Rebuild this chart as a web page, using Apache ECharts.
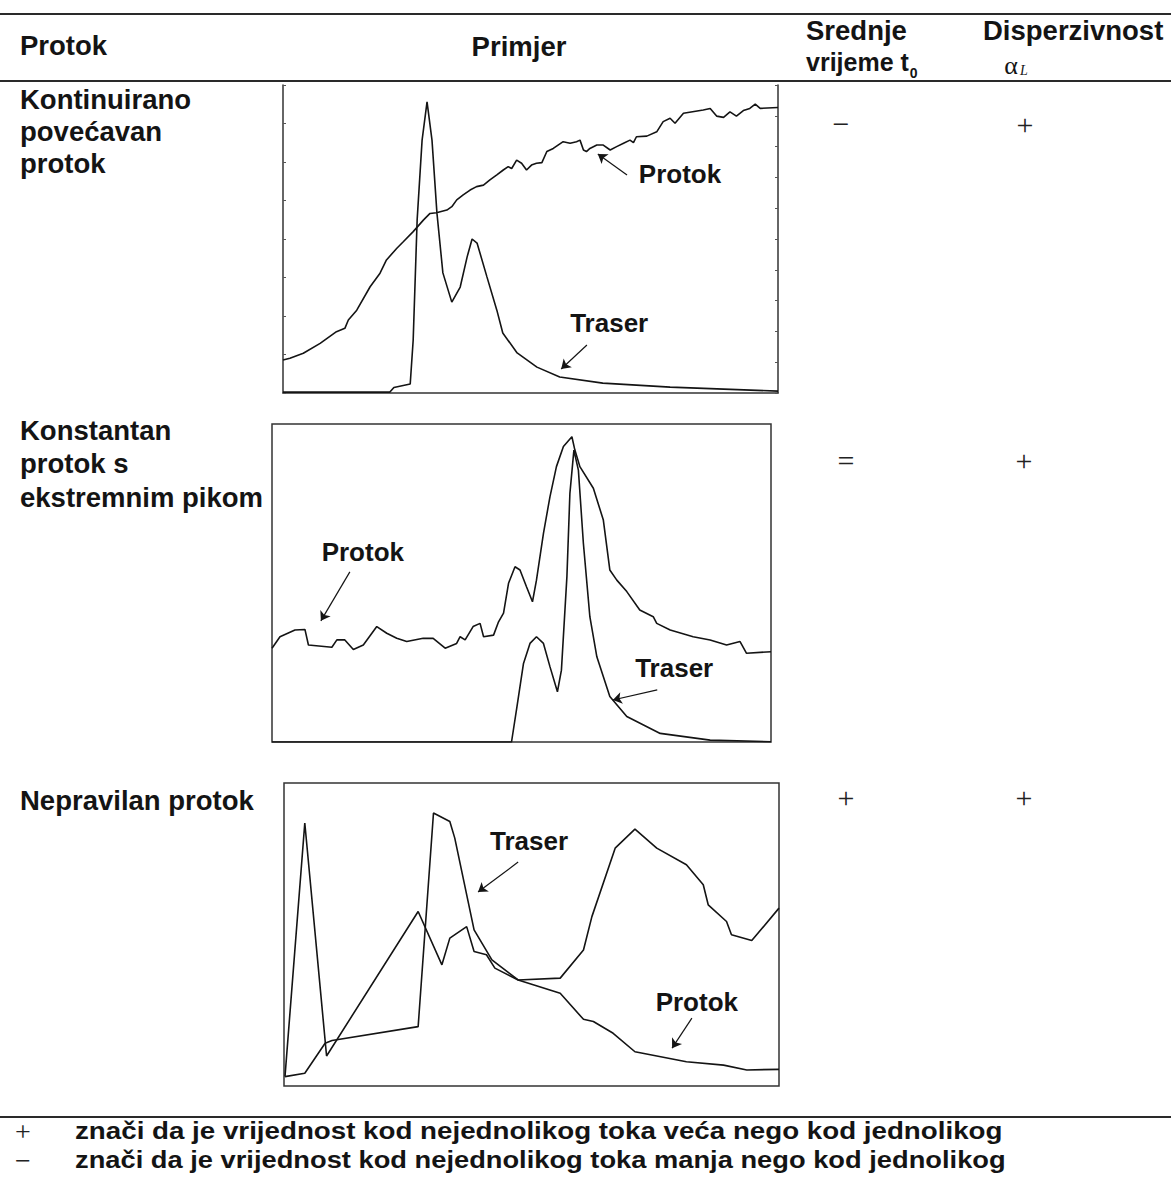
<!DOCTYPE html>
<html><head><meta charset="utf-8">
<script src="https://cdn.jsdelivr.net/npm/echarts@6/dist/echarts.min.js"></script>
<style>html,body{margin:0;padding:0;background:#fff}#c{width:1171px;height:1180px}</style>
</head><body><div id="c"></div>
<script>
// ---------- Panel 1: Kontinuirano povećavan protok ----------
const p1FlowX = [0,1.4,4.1,7.5,10.8,12.5,13.2,14.9,17.6,19.6,20.9,23.0,24.3,26.3,28.4,29.7,31.0,33.1,34.1,35.1,36.4,37.8,39.1,40.5,41.8,43.2,44.5,45.5,46.2,47.2,48.2,49.2,50.2,51.2,52.3,53.3,54.6,56.6,58.0,59.3,60.0,60.7,61.3,62.0,63.4,64.7,66.1,67.4,68.8,70.1,70.8,71.4,73.5,75.5,76.8,78.2,79.2,80.9,84.9,86.3,87.6,89.0,90.3,91.6,93.0,94.3,95.4,96.4,100];
const p1FlowY = [10.7,11.3,12.9,16.1,19.9,21.0,23.7,26.9,34.5,38.9,43.2,47.0,49.1,52.4,56.2,58.3,58.5,59.4,60.5,62.7,64.3,65.9,67.0,67.5,69.2,70.8,72.4,73.5,72.9,75.6,74.6,72.4,74.0,74.6,74.8,78.4,79.4,81.6,81.1,81.6,82.1,78.9,78.4,79.4,80.5,80.5,78.9,80.0,81.1,82.1,81.3,83.2,83.4,84.8,88.1,89.2,87.6,90.8,91.9,92.4,89.9,89.5,91.3,89.9,91.7,92.4,93.8,92.4,92.7];
const p1TracerX = [0,21.6,22.4,25.7,26.3,27.1,28.1,29.1,30.1,31.1,32.3,34.1,35.8,37.2,38.2,39.2,41.2,43.2,44.4,47.3,51.3,55.9,64.6,78.2,100];
const p1TracerY = [0.3,0.3,1.8,2.9,17.2,56.2,82.1,94.5,82.1,58.4,39.0,29.5,34.4,44.2,50.0,48.7,37.7,26.9,19.5,13.0,8.4,5.2,3.2,1.9,0.6];

// ---------- Panel 2: Konstantan protok s ekstremnim pikom ----------
const p2FlowX = [0,1.6,4.6,6.6,7.3,12.0,13.0,14.6,16.3,18.3,21.0,23.0,25.0,27.0,30.3,32.3,34.7,37.0,37.7,38.7,40.3,41.7,42.4,44.4,45.4,46.4,47.4,48.7,49.7,51.0,52.2,53.0,54.4,55.7,57.0,58.4,60.1,60.7,61.7,64.4,66.4,67.7,69.1,71.1,73.7,76.4,77.1,79.8,84.4,87.8,91.1,93.8,95.1,100];
const p2FlowY = [29.5,33.1,35.2,35.4,30.5,29.8,32.1,32.1,29.1,30.5,36.3,34.2,32.6,31.6,32.6,32.6,29.5,31.0,33.1,32.1,36.3,37.3,33.1,33.6,37.8,40.5,49.9,55.1,54.1,48.8,44.1,50.9,65.6,77.1,86.6,92.9,96.0,91.8,86.6,79.8,69.8,54.1,50.9,47.3,41.5,39.4,37.3,35.2,33.1,32.1,30.5,31.6,27.9,28.4];
const p2TracerX = [0,48.0,49.0,50.4,51.7,53.0,54.4,55.7,57.2,58.0,59.1,59.7,60.5,61.4,62.4,63.7,65.1,67.7,71.1,77.8,87.8,100];
const p2TracerY = [0,0,10.2,24.7,31.0,33.1,31.0,23.7,15.8,22.6,52.0,78.2,91.8,85.5,62.5,39.4,26.8,14.3,8.0,2.7,0.6,0.1];

// ---------- Panel 3: Nepravilan protok ----------
const p3FlowX = [0.2,4.2,8.6,27.1,31.9,33.5,36.9,38.4,40.9,42.6,47.3,55.8,60.5,62.2,66.9,70.9,75.3,81.3,84.7,85.7,89.4,90.4,94.5,100];
const p3FlowY = [3.1,86.8,9.9,57.6,40.0,48.8,52.6,44.4,43.3,38.9,35.0,35.6,44.9,55.9,78.5,84.8,78.5,73.0,66.4,59.8,54.3,49.9,48.0,58.7];
const p3TracerX = [0.2,4.2,8.3,9.7,27.1,30.2,33.5,34.5,38.4,42.0,47.3,55.8,60.5,62.5,66.5,70.9,81.3,88.8,93.5,100];
const p3TracerY = [3.1,4.2,14.1,15.0,19.6,90.1,87.3,81.8,51.5,41.6,35.0,30.6,22.0,21.3,17.4,11.3,8.0,6.9,5.3,5.5];

// ---------- Table text ----------
const headers = ['Protok','Primjer','Srednje','vrijeme t','Disperzivnost'];
const rowLabels = [['Kontinuirano','povećavan','protok'],['Konstantan','protok s','ekstremnim pikom'],['Nepravilan protok']];
const meanTime = ['−','=','+'];
const dispersivity = ['+','+','+'];
const footnotes = [['+','znači da je vrijednost kod nejednolikog toka veća nego kod jednolikog'],['−','znači da je vrijednost kod nejednolikog toka manja nego kod jednolikog']];

const pairs = (xs, ys) => xs.map((x, i) => [x, ys[i]]);
const FONT = '"Liberation Sans", Arial, sans-serif';
const INK = '#141414';

function arrows(list) {
  return {
    silent: true, symbol: ['none', 'arrow'], symbolSize: 9,
    lineStyle: { color: INK, width: 1.2, type: 'solid' },
    itemStyle: { color: INK },
    label: { show: false }, emphasis: { disabled: true },
    data: list.map(a => [{ coord: [a[0], a[1]] }, { coord: [a[2], a[3]] }])
  };
}
function labels(list) {
  return {
    silent: true, symbol: 'circle', symbolSize: 0,
    label: { show: true, position: 'inside', formatter: '{b}', fontSize: 26, fontWeight: 'bold', color: INK, fontFamily: FONT },
    data: list.map(l => ({ name: l[0], coord: [l[1], l[2]] }))
  };
}
function line(idx, data, extra) {
  return Object.assign({
    type: 'line', xAxisIndex: idx, yAxisIndex: idx, data, showSymbol: false, symbol: 'none',
    lineStyle: { color: INK, width: 1.6 }, animation: false, silent: true
  }, extra || {});
}

const grids = [
  { left: 283, top: 85, width: 495, height: 308, show: false },
  { left: 272, top: 424, width: 499, height: 318, show: true, borderColor: '#333', borderWidth: 1.5 },
  { left: 284, top: 783, width: 495, height: 303, show: true, borderColor: '#333', borderWidth: 1.5 }
];
const xAxes = grids.map((g, i) => ({
  gridIndex: i, type: 'value', min: 0, max: 100,
  axisLine: { show: i === 0, onZero: false, lineStyle: { color: '#333', width: 1.5 } },
  axisTick: { show: false }, axisLabel: { show: false }, splitLine: { show: false }
}));
const yAxes = grids.map((g, i) => ({
  gridIndex: i, type: 'value', min: 0, max: 100, interval: 12.5,
  axisLine: { show: i === 0, onZero: false, lineStyle: { color: '#333', width: 1.5 } },
  axisTick: { show: i === 0, inside: true, length: 3, lineStyle: { color: '#555' } },
  axisLabel: { show: false }, splitLine: { show: false }
}));
yAxes.push({
  gridIndex: 0, type: 'value', min: 0, max: 100, interval: 10, position: 'right',
  axisLine: { show: true, onZero: false, lineStyle: { color: '#333', width: 1.5 } },
  axisTick: { show: true, inside: true, length: 3, lineStyle: { color: '#555' } },
  axisLabel: { show: false }, splitLine: { show: false }
});

const series = [
  line(0, pairs(p1FlowX, p1FlowY), {
    markLine: arrows([[69.5, 70.8, 63.6, 77.6]]), markPoint: labels([['Protok', 80.2, 71.1]])
  }),
  line(0, pairs(p1TracerX, p1TracerY), {
    markLine: arrows([[61.4, 15.6, 56.2, 7.8]]), markPoint: labels([['Traser', 65.9, 22.7]])
  }),
  line(1, pairs(p2FlowX, p2FlowY), {
    markLine: arrows([[15.6, 53.5, 9.8, 38.1]]), markPoint: labels([['Protok', 18.2, 59.7]])
  }),
  line(1, pairs(p2TracerX, p2TracerY), {
    markLine: arrows([[77.2, 16.4, 68.3, 13.2]]), markPoint: labels([['Traser', 80.6, 23.3]])
  }),
  line(2, pairs(p3FlowX, p3FlowY), {
    markLine: arrows([[47.3, 73.9, 39.2, 64.0]]), markPoint: labels([['Traser', 49.5, 80.9]])
  }),
  line(2, pairs(p3TracerX, p3TracerY), {
    markLine: arrows([[82.4, 22.4, 78.4, 12.5]]), markPoint: labels([['Protok', 83.4, 27.7]])
  })
];

function fontStr(opt) {
  return (opt.style || 'normal') + ' ' + (opt.weight || 'bold') + ' ' + (opt.size || 27.5) + 'px ' + (opt.family || FONT);
}
function measure(text, opt) {
  const ctx = document.createElement('canvas').getContext('2d');
  ctx.font = fontStr(opt || {});
  return ctx.measureText(text).width;
}
function txt(text, x, y, opt) {
  opt = opt || {};
  const el = {
    type: 'text', x, y, silent: true,
    style: {
      text, fill: opt.fill || INK, font: fontStr(opt),
      align: opt.align || 'left', verticalAlign: 'middle',
      textAlign: opt.align || 'left', textVerticalAlign: 'middle'
    }
  };
  if (opt.scaleX) el.scaleX = opt.scaleX;
  return el;
}
function rule(y) {
  return { type: 'line', silent: true, shape: { x1: 0, y1: y, x2: 1171, y2: y }, style: { stroke: '#2a2a2a', lineWidth: 2 } };
}

const SYM = { family: '"Liberation Serif", "DejaVu Serif", serif', weight: 'normal', size: 30, fill: '#222', align: 'center' };
const SYM_S = { family: '"Liberation Serif", "DejaVu Serif", serif', weight: 'normal', size: 28, fill: '#222', align: 'center' };
const VT = { size: 25 };
const vtWidth = measure(headers[3], VT);
const FN1 = { size: 24 };
FN1.scaleX = 928 / measure(footnotes[0][1], FN1);
const FN2 = { size: 24 };
FN2.scaleX = 931 / measure(footnotes[1][1], FN2);
const graphic = [
  rule(14), rule(81), rule(1117),
  txt(headers[0], 20, 45),
  txt(headers[1], 519, 46, { align: 'center' }),
  txt(headers[2], 806, 30),
  txt(headers[3], 806, 62, VT),
  txt('0', 806 + vtWidth + 1, 73, { size: 14 }),
  txt(headers[4], 983, 30),
  txt('α', 1011, 65, { family: '"Liberation Serif", serif', weight: 'normal', size: 26, align: 'center' }),
  txt('L', 1024, 70, { family: '"Liberation Serif", serif', weight: 'normal', style: 'italic', size: 14, align: 'center' }),
  txt(rowLabels[0][0], 20, 99), txt(rowLabels[0][1], 20, 131), txt(rowLabels[0][2], 20, 163),
  txt(rowLabels[1][0], 20, 430), txt(rowLabels[1][1], 20, 463), txt(rowLabels[1][2], 20, 497),
  txt(rowLabels[2][0], 20, 800),
  txt(meanTime[0], 841, 123, SYM), txt(dispersivity[0], 1025, 124, SYM),
  txt(meanTime[1], 846, 460, SYM), txt(dispersivity[1], 1024, 460, SYM),
  txt(meanTime[2], 846, 797, SYM), txt(dispersivity[2], 1024, 797, SYM),
  txt(footnotes[0][0], 23, 1131, SYM_S), txt(footnotes[0][1], 75, 1131, FN1),
  txt(footnotes[1][0], 23, 1160, SYM_S), txt(footnotes[1][1], 75, 1160, FN2)
];

const chart = echarts.init(document.getElementById('c'), null, { renderer: 'svg' });
chart.setOption({
  animation: false,
  backgroundColor: '#fff',
  grid: grids, xAxis: xAxes, yAxis: yAxes, series, graphic
});
</script>
</body></html>
